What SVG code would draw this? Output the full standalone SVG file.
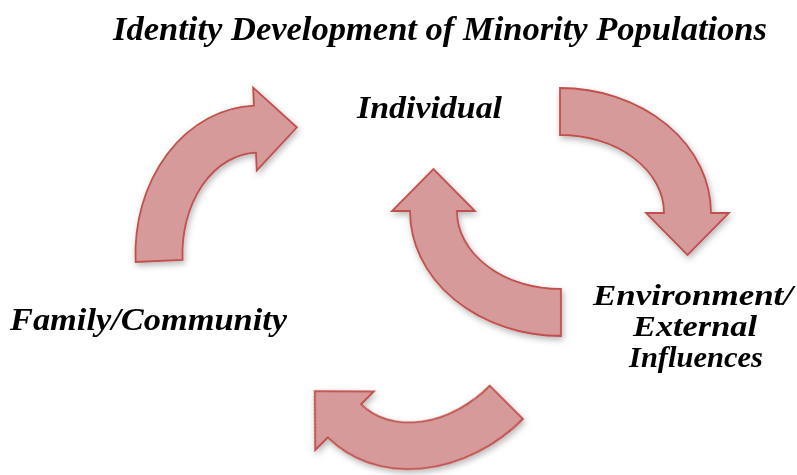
<svg xmlns="http://www.w3.org/2000/svg" xmlns:xlink="http://www.w3.org/1999/xlink" width="797" height="475" viewBox="0 0 797 475">
  <style>
    .label { font-family: "Liberation Serif", "Times New Roman", serif; font-weight: bold; font-style: italic; fill: #000000; }
    .arrow { fill: #D59A99; stroke: #C0504D; stroke-width: 1.8; stroke-linejoin: miter; }
  </style>
  <defs>
    <filter id="softShadow" x="-20%" y="-20%" width="140%" height="140%">
      <feDropShadow dx="1.5" dy="3" stdDeviation="3" flood-color="#000000" flood-opacity="0.28"/>
    </filter>
    <!-- Quarter-ellipse curved arrow: tail at the top, sweeping clockwise to a head on the right -->
    <path id="curvedArrow" d="M 0,-125 A 151,125 0 0 1 151,0 L 169,0 L 127.5,42 L 86,0 L 104,0 A 104,78 0 0 0 0,-78 Z"/>
  </defs>

  <rect width="797" height="475" fill="#FFFFFF"/>

  <g id="connectors" filter="url(#softShadow)">
    <!-- Family/Community to Individual -->
    <use xlink:href="#curvedArrow" class="arrow" transform="translate(260.5,256.5) rotate(267.5)"/>
    <!-- Individual to Environment -->
    <use xlink:href="#curvedArrow" class="arrow" transform="translate(560,213)"/>
    <!-- Environment back to Individual -->
    <use xlink:href="#curvedArrow" class="arrow" transform="translate(561,211) rotate(180)"/>
    <!-- Environment to Family/Community -->
    <use xlink:href="#curvedArrow" class="arrow" transform="translate(434.6,330.6) rotate(135)"/>
  </g>

  <g id="title">
    <text class="label" x="113" y="40" font-size="34" textLength="654" lengthAdjust="spacingAndGlyphs">Identity Development of Minority Populations</text>
  </g>

  <g id="individual">
    <text class="label" x="357" y="118" font-size="32" textLength="145" lengthAdjust="spacingAndGlyphs">Individual</text>
  </g>

  <g id="family-community">
    <text class="label" x="10" y="330" font-size="32" textLength="277" lengthAdjust="spacingAndGlyphs">Family/Community</text>
  </g>

  <g id="environment">
    <text class="label" x="593" y="305" font-size="30" textLength="200" lengthAdjust="spacingAndGlyphs">Environment/</text>
    <text class="label" x="633" y="335.5" font-size="30" textLength="124" lengthAdjust="spacingAndGlyphs">External</text>
    <text class="label" x="629" y="366.5" font-size="30" textLength="134" lengthAdjust="spacingAndGlyphs">Influences</text>
  </g>
</svg>
